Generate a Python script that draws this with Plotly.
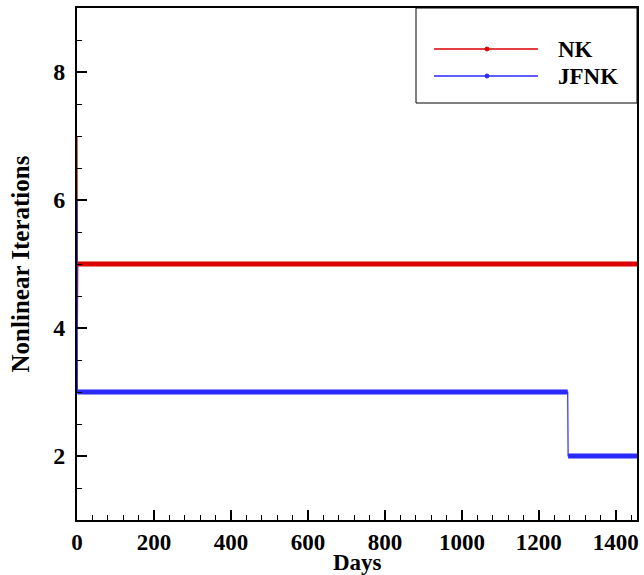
import plotly.graph_objects as go

# Data (breakpoints of step histories)
nk_days = [0, 1, 2, 1455]
nk_iters = [7, 4, 5, 5]
jfnk_days = [0, 1, 1275, 1276, 1455]
jfnk_iters = [6, 3, 3, 2, 2]

series_names = ["NK", "JFNK"]
series_colors = ["#dd0000", "#2a2aff"]
x_ticks = [0, 200, 400, 600, 800, 1000, 1200, 1400]
y_ticks = [2, 4, 6, 8]

FONT = "Liberation Serif"

def thick_segments(xs, ys):
    sx, sy = [], []
    for i in range(len(xs) - 1):
        if ys[i] == ys[i + 1]:
            sx += [xs[i], xs[i + 1], None]
            sy += [ys[i], ys[i + 1], None]
    return sx, sy

fig = go.Figure()
for name, xs, ys, col in zip(series_names, [nk_days, jfnk_days], [nk_iters, jfnk_iters], series_colors):
    fig.add_trace(go.Scatter(x=xs, y=ys, mode="lines", line=dict(color=col, width=1.2),
                             showlegend=False, name=name))
    sx, sy = thick_segments(xs, ys)
    fig.add_trace(go.Scatter(x=sx, y=sy, mode="lines", line=dict(color=col, width=5),
                             showlegend=False, name=name, connectgaps=False))

axis_common = dict(showline=True, linecolor="black", linewidth=2, mirror=True,
                   ticks="inside", ticklen=10, tickwidth=2, tickcolor="black",
                   showgrid=False, zeroline=False, automargin=False,
                   tickfont=dict(family=FONT, size=24, color="black"))

fig.update_xaxes(range=[0, 1455], tickvals=x_ticks, ticktext=[f"<b>{v}</b>" for v in x_ticks],
                 minor=dict(dtick=40, tick0=0, ticks="inside", ticklen=5, tickcolor="black", tickwidth=1),
                 **axis_common)
fig.update_xaxes(tickfont=dict(family=FONT, size=23, color="black"))
fig.update_yaxes(range=[1, 9], tickvals=y_ticks, ticktext=[f"<b>{v}</b>" for v in y_ticks],
                 ticklabelstandoff=5,
                 minor=dict(dtick=0.5, tick0=0, ticks="inside", ticklen=5, tickcolor="black", tickwidth=1),
                 title=dict(text="<b>Nonlinear Iterations</b>", font=dict(family=FONT, size=25, color="black"), standoff=16),
                 **axis_common)

# Manual legend to mimic the reference box
L, T, R, B = 77, 8, 637, 520
W, H = R - L, B - T
px = lambda x: (x - L) / W
py = lambda y: (B - y) / H

shapes = [dict(type="rect", xref="paper", yref="paper", x0=px(416), x1=1, y0=py(103), y1=1,
               line=dict(color="black", width=1), fillcolor="white", layer="above")]
annotations = [dict(xref="paper", yref="paper", x=0.5, y=py(562), xanchor="center",
                    yanchor="middle", showarrow=False, text="<b>Days</b>",
                    font=dict(family=FONT, size=23, color="black"))]
for i, (name, col) in enumerate(zip(series_names, series_colors)):
    yy = [49, 76][i]
    shapes.append(dict(type="line", xref="paper", yref="paper", x0=px(434), x1=px(538),
                       y0=py(yy), y1=py(yy), line=dict(color=col, width=1.5), layer="above"))
    shapes.append(dict(type="circle", xref="paper", yref="paper", x0=px(485), x1=px(489),
                       y0=py(yy + 2), y1=py(yy - 2), line=dict(color=col, width=1),
                       fillcolor=col, layer="above"))
    annotations.append(dict(xref="paper", yref="paper", x=px(556), y=py(yy), xanchor="left",
                            yanchor="middle", showarrow=False, text=f"<b>{name}</b>",
                            font=dict(family=FONT, size=23, color="black")))

fig.update_layout(width=644, height=575, margin=dict(l=L, r=644 - R, t=T, b=575 - B),
                  plot_bgcolor="white", paper_bgcolor="white",
                  shapes=shapes, annotations=annotations, showlegend=False)

fig.write_html("out.html")
